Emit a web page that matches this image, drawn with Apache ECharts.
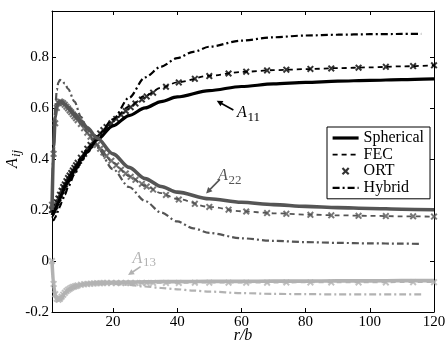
<!DOCTYPE html>
<html><head><meta charset="utf-8">
<script src="https://cdn.jsdelivr.net/npm/echarts@6/dist/echarts.min.js"></script>
<style>html,body{margin:0;padding:0;background:#fff}#c{width:448px;height:346px}</style>
</head><body><div id="c"></div>
<script>
// ---- data ----
const xTicks = [20, 40, 60, 80, 100, 120];
const yTicks = [-0.2, 0, 0.2, 0.4, 0.6, 0.8];

const rSph = [1,1.5,2,2.5,3,4,5,6,8,10,12,15,20,25,30,35,40,50,60,70,80,90,100,110,120];
const a11Sph = [0.18,0.19,0.2,0.215,0.23,0.26,0.29,0.31,0.355,0.395,0.43,0.475,0.53,0.57,0.6,0.625,0.643,0.668,0.684,0.694,0.7,0.705,0.708,0.711,0.714];
const a22Sph = [0.2,0.45,0.565,0.607,0.622,0.625,0.615,0.602,0.577,0.55,0.522,0.482,0.42,0.367,0.323,0.292,0.27,0.244,0.23,0.221,0.214,0.209,0.206,0.203,0.201];
const a13Sph = [0,-0.095,-0.135,-0.148,-0.15,-0.14,-0.126,-0.114,-0.1,-0.093,-0.089,-0.086,-0.084,-0.083,-0.082,-0.081,-0.081,-0.08,-0.08,-0.079,-0.079,-0.078,-0.078,-0.077,-0.077];

const rFec = [1,1.5,2,2.5,3,4,5,6,8,10,12,15,20,25,30,35,40,50,60,70,80,90,100,110,120];
const a11Fec = [0.17,0.18,0.195,0.21,0.23,0.26,0.29,0.315,0.36,0.405,0.44,0.49,0.555,0.605,0.648,0.679,0.7,0.726,0.741,0.748,0.752,0.756,0.759,0.763,0.767];
const a22Fec = [0.21,0.43,0.55,0.6,0.618,0.622,0.612,0.598,0.567,0.537,0.503,0.455,0.386,0.333,0.295,0.266,0.243,0.212,0.195,0.187,0.182,0.179,0.177,0.175,0.174];
const a13Fec = [0,-0.09,-0.13,-0.148,-0.152,-0.14,-0.125,-0.113,-0.1,-0.093,-0.09,-0.088,-0.087,-0.086,-0.086,-0.086,-0.086,-0.085,-0.085,-0.085,-0.084,-0.084,-0.084,-0.083,-0.083];

const rOrt = [1,1.5,2,2.5,3,3.5,4,4.5,5,5.5,6,6.5,7,7.5,8,8.5,9,10,11,12,13,14,15,16,17,18,19.5,21,22.5,24,25.5,27,29,30.5,32.5,36.5,40.5,45.5,50,56,61.5,68,74,81.5,88,96.5,105,113.5,120];
const a11Ort = [0.2,0.2,0.215,0.23,0.245,0.26,0.275,0.29,0.3,0.313,0.325,0.335,0.345,0.355,0.365,0.375,0.385,0.405,0.42,0.44,0.455,0.47,0.485,0.5,0.513,0.525,0.54,0.557,0.573,0.588,0.603,0.617,0.633,0.645,0.66,0.683,0.7,0.714,0.725,0.735,0.742,0.747,0.75,0.753,0.755,0.758,0.761,0.764,0.767];
const a22Ort = [0.22,0.42,0.54,0.6,0.62,0.625,0.622,0.618,0.612,0.605,0.598,0.59,0.583,0.575,0.567,0.56,0.552,0.537,0.52,0.503,0.487,0.47,0.455,0.44,0.425,0.412,0.393,0.375,0.358,0.343,0.33,0.318,0.302,0.292,0.28,0.259,0.241,0.224,0.212,0.201,0.194,0.188,0.185,0.181,0.179,0.177,0.176,0.175,0.174];
const a13Ort = [0,-0.09,-0.13,-0.148,-0.152,-0.148,-0.14,-0.132,-0.125,-0.118,-0.113,-0.109,-0.105,-0.102,-0.1,-0.098,-0.096,-0.093,-0.091,-0.09,-0.089,-0.088,-0.087,-0.087,-0.086,-0.086,-0.086,-0.086,-0.086,-0.086,-0.086,-0.086,-0.086,-0.086,-0.086,-0.086,-0.086,-0.085,-0.085,-0.085,-0.085,-0.085,-0.084,-0.084,-0.084,-0.084,-0.084,-0.083,-0.083];

const rHyb = [1,1.5,2,2.5,3,3.5,4,5,6,8,10,12,15,20,25,30,35,40,45,50,60,70,80,90,100,110,116];
const a11Hyb = [0.16,0.16,0.17,0.185,0.2,0.215,0.23,0.26,0.29,0.34,0.385,0.425,0.475,0.555,0.64,0.72,0.762,0.795,0.82,0.84,0.864,0.877,0.884,0.887,0.889,0.89,0.89];
const a22Hyb = [0.22,0.46,0.6,0.67,0.7,0.71,0.708,0.695,0.675,0.625,0.565,0.515,0.445,0.36,0.29,0.235,0.19,0.155,0.128,0.11,0.089,0.079,0.074,0.071,0.069,0.068,0.067];
const a13Hyb = [0,-0.1,-0.145,-0.158,-0.16,-0.157,-0.15,-0.135,-0.122,-0.105,-0.096,-0.091,-0.089,-0.09,-0.094,-0.1,-0.106,-0.111,-0.116,-0.12,-0.126,-0.129,-0.13,-0.131,-0.131,-0.131,-0.131];

const legendNames = ['Spherical', 'FEC', 'ORT', 'Hybrid'];
const componentLabels = ['11', '22', '13'];

// ---- styling ----
const FONT = '"Liberation Serif","Times New Roman",serif';
const C11 = '#000000', C22 = '#555555', C13 = '#b2b2b2';
const XPATH = 'path://M0,2L2,0L5,3L8,0L10,2L7,5L10,8L8,10L5,7L2,10L0,8L3,5Z';
const XPATH_LEG = 'path://M-4,-4M14,14M0,2L2,0L5,3L8,0L10,2L7,5L10,8L8,10L5,7L2,10L0,8L3,5Z';

function pairs(xs, ys) { return xs.map((x, i) => [x, ys[i]]); }

function lineS(name, xs, ys, color, type, width, z) {
  return { name, type: 'line', data: pairs(xs, ys), symbol: 'none', smooth: 0.3, smoothMonotone: 'x',
    lineStyle: { color, type, width, cap: 'butt' }, itemStyle: { color }, z, silent: true, animation: false };
}
function ortS(name, xs, ys, color, z) {
  return { name, type: 'scatter', data: pairs(xs, ys), symbol: XPATH, symbolSize: 7,
    itemStyle: { color }, z, silent: true, animation: false };
}
const DASH = [5, 4], DASHDOT = [7, 3, 2, 3];
const W_SPH = 3.2, W_FEC = 1.8, W_HYB = 2.2;

const series = [
  lineS('Hybrid', rHyb, a11Hyb, C11, DASHDOT, W_HYB, 2),
  lineS('FEC', rFec, a11Fec, C11, DASH, W_FEC, 3),
  ortS('ORT', rOrt, a11Ort, C11, 4),
  lineS('Spherical', rSph, a11Sph, C11, 'solid', W_SPH, 5),
  lineS('Hybrid A22', rHyb, a22Hyb, C22, DASHDOT, W_HYB, 2),
  lineS('FEC A22', rFec, a22Fec, C22, DASH, W_FEC, 3),
  ortS('ORT A22', rOrt, a22Ort, C22, 4),
  lineS('Spherical A22', rSph, a22Sph, C22, 'solid', 3.6, 5),
  lineS('Hybrid A13', rHyb, a13Hyb, C13, DASHDOT, W_HYB, 2),
  lineS('FEC A13', rFec, a13Fec, C13, DASH, W_FEC, 3),
  ortS('ORT A13', rOrt, a13Ort, C13, 4),
  lineS('Spherical A13', rSph, a13Sph, C13, 'solid', 3.6, 5)
];

const axisLine = { show: true, onZero: false, lineStyle: { color: '#000', width: 1 } };
const labelStyle = { color: '#000', fontFamily: FONT, fontSize: 15 };
function fmt(v) { return String(Math.round(v * 10) / 10); }
const noSym = { opacity: 0 };

const chart = echarts.init(document.getElementById('c'), null, { renderer: 'canvas' });
chart.setOption({
  animation: false,
  backgroundColor: '#fff',
  grid: { left: 52, right: 14, top: 11, bottom: 34, containLabel: false, outerBoundsMode: 'none' },
  xAxis: [
    { type: 'value', min: 1, max: 120, position: 'bottom', axisLine,
      axisTick: { show: true, inside: true, length: 4, customValues: xTicks, lineStyle: { color: '#000' } },
      axisLabel: { ...labelStyle, margin: 3, customValues: xTicks, formatter: fmt },
      splitLine: { show: false },
      name: 'r/b', nameLocation: 'middle', nameGap: 16, nameMoveOverlap: false,
      nameTextStyle: { color: '#000', fontFamily: FONT, fontSize: 16, fontStyle: 'italic' } },
    { type: 'value', min: 1, max: 120, position: 'top', axisLine,
      axisTick: { show: true, inside: true, length: 4, customValues: xTicks.slice(0, -1), lineStyle: { color: '#000' } },
      axisLabel: { show: false }, splitLine: { show: false } }
  ],
  yAxis: [
    { type: 'value', min: -0.2, max: 0.98, position: 'left', axisLine,
      axisTick: { show: true, inside: true, length: 4, customValues: yTicks, lineStyle: { color: '#000' } },
      axisLabel: { ...labelStyle, margin: 3, customValues: yTicks, formatter: fmt },
      splitLine: { show: false } },
    { type: 'value', min: -0.2, max: 0.98, position: 'right', axisLine,
      axisTick: { show: true, inside: true, length: 4, customValues: yTicks.slice(1), lineStyle: { color: '#000' } },
      axisLabel: { show: false }, splitLine: { show: false } }
  ],
  legend: {
    show: true, selectedMode: false, orient: 'vertical', left: 327, top: 127,
    padding: [3, 6, 3, 4], itemGap: 0.6, itemWidth: 26, itemHeight: 14,
    borderColor: '#000', borderWidth: 1, borderRadius: 0, backgroundColor: '#fff',
    textStyle: { color: '#000', fontFamily: FONT, fontSize: 16, lineHeight: 15 },
    data: [
      { name: legendNames[0], itemStyle: noSym, lineStyle: { width: W_SPH } },
      { name: legendNames[1], itemStyle: noSym, lineStyle: { width: W_FEC } },
      { name: legendNames[2], icon: XPATH_LEG },
      { name: legendNames[3], itemStyle: noSym, lineStyle: { width: W_HYB } }
    ]
  },
  series
});

// ---- annotations (anchored in data coordinates) ----
const notes = [
  { sub: componentLabels[0], color: C11, at: [58.6, 0.612], tail: [57.5, 0.592], head: [52.3, 0.628] },
  { sub: componentLabels[1], color: C22, at: [52.7, 0.365], tail: [53.3, 0.320], head: [49.0, 0.265] },
  { sub: componentLabels[2], color: C13, at: [26.1, 0.041], tail: [28.6, -0.022], head: [24.7, -0.055] }
];
const gfx = [];
notes.forEach(n => {
  const p = chart.convertToPixel({ xAxisIndex: 0, yAxisIndex: 0 }, n.at);
  const t = chart.convertToPixel({ xAxisIndex: 0, yAxisIndex: 0 }, n.tail);
  const h = chart.convertToPixel({ xAxisIndex: 0, yAxisIndex: 0 }, n.head);
  gfx.push({ type: 'text', x: p[0], y: p[1], z: 50,
    style: { text: 'A', fill: n.color, font: 'italic 16px ' + FONT, textVerticalAlign: 'top', textAlign: 'left' } });
  gfx.push({ type: 'text', x: p[0] + 10.5, y: p[1] + 6, z: 50,
    style: { text: n.sub, fill: n.color, font: '13px ' + FONT, textVerticalAlign: 'top', textAlign: 'left' } });
  const dx = h[0] - t[0], dy = h[1] - t[1], L = Math.hypot(dx, dy), ux = dx / L, uy = dy / L;
  const hl = 6, hw = 3;
  const bx = h[0] - ux * hl, by = h[1] - uy * hl;
  gfx.push({ type: 'line', z: 50, shape: { x1: t[0], y1: t[1], x2: bx + ux, y2: by + uy },
    style: { stroke: n.color, lineWidth: 1.6 } });
  gfx.push({ type: 'polygon', z: 50, shape: { points: [[h[0], h[1]], [bx - uy * hw, by + ux * hw], [bx + uy * hw, by - ux * hw]] },
    style: { fill: n.color } });
});
// y-axis title A_ij (rotated)
gfx.push({ type: 'group', x: 5, y: 168, rotation: Math.PI / 2, z: 50, children: [
  { type: 'text', x: 0, y: 0, style: { text: 'A', fill: '#000', font: 'italic 16px ' + FONT, textVerticalAlign: 'top' } },
  { type: 'text', x: 11, y: 5, style: { text: 'ij', fill: '#000', font: 'italic 13px ' + FONT, textVerticalAlign: 'top' } }
] });
chart.setOption({ graphic: gfx });
</script>
</body></html>
